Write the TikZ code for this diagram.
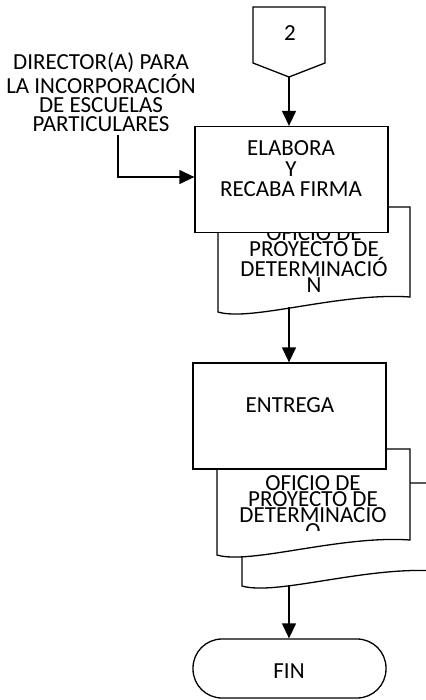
\documentclass[tikz,border=0pt]{standalone}
\usepackage{fontspec}
\setmainfont{Carlito}
\usetikzlibrary{arrows.meta}
\begin{document}
\begin{tikzpicture}[x=1pt,y=-1pt,
  line/.style={line width=1.3pt},
  arr/.style={line width=1.3pt,-{Triangle[length=15pt,width=14pt]}},
  shapeline/.style={line width=1.3pt,fill=white,line join=miter},
  procbox/.style={draw,line width=1.3pt,fill=white,minimum width=193pt,minimum height=106pt,inner sep=0pt},
  termbox/.style={draw,line width=1.3pt,fill=white,minimum width=193pt,minimum height=59pt,rounded corners=29pt,inner sep=0pt},
  txt/.style={align=center,inner sep=0pt,font=\fontsize{23}{20.5}\selectfont},
  doctxt/.style={align=center,inner sep=0pt,font=\fontsize{23}{14.5}\selectfont}
]
\useasboundingbox (0,0) rectangle (425,700);
\fill[white] (0,0) rectangle (425,700);

% off-page connector
\draw[shapeline] (253,7) -- (325,7) -- (325,63) -- (289,77) -- (253,63) -- cycle;
\coordinate (c2tip) at (289,77);
\node[txt] (c2) at (290,33) {2};

% source label
\node[txt,font=\fontsize{23}{19}\selectfont] (dir) at (101,92) {DIRECTOR(A) PARA\\LA INCORPORACIÓN\\DE ESCUELAS\\PARTICULARES};
\coordinate (src) at (118,135);

% document 1
\draw[shapeline] (218,207) -- (410,207) -- (410,297) .. controls (340,292) and (251,322) .. (218,312) -- cycle;
\node[doctxt] (d1t) at (314,259) {OFICIO DE\\PROYECTO DE\\DETERMINACIÓ\\N};
\coordinate (d1b) at (289,307);

% box 1
\node[procbox] (b1) at (291.5,179.5) {};
\node[txt] (b1t) at (291,169) {ELABORA\\Y\\RECABA FIRMA};

% documents 2 (stack)
\draw[shapeline] (242,483) -- (436,483) -- (436,571) .. controls (366,566) and (276,596) .. (242,586) -- cycle;
\coordinate (d3b) at (289,585);
\draw[shapeline] (217,449) -- (410,449) -- (410,540) .. controls (340,535) and (250,565) .. (217,555) -- cycle;
\begin{scope}
\clip (217,440) rectangle (410,530);
\node[doctxt] (d2t) at (313,507) {OFICIO DE\\PROYECTO DE\\DETERMINACIO\\O};
\end{scope}

% box 2
\node[procbox] (b2) at (289.5,416) {};
\node[txt] (b2t) at (290,405) {ENTREGA};

% terminator
\node[termbox] (fin) at (289.5,668.5) {};
\node[txt] (fint) at (289,671) {FIN};

% connectors
\draw[arr] (c2tip) -- (c2tip |- b1.north);
\draw[arr] (src) |- ([yshift=2.5pt]b1.west);
\draw[arr] (d1b) -- (d1b |- b2.north);
\draw[arr] (d3b) -- (d3b |- fin.north);
\end{tikzpicture}
\end{document}
